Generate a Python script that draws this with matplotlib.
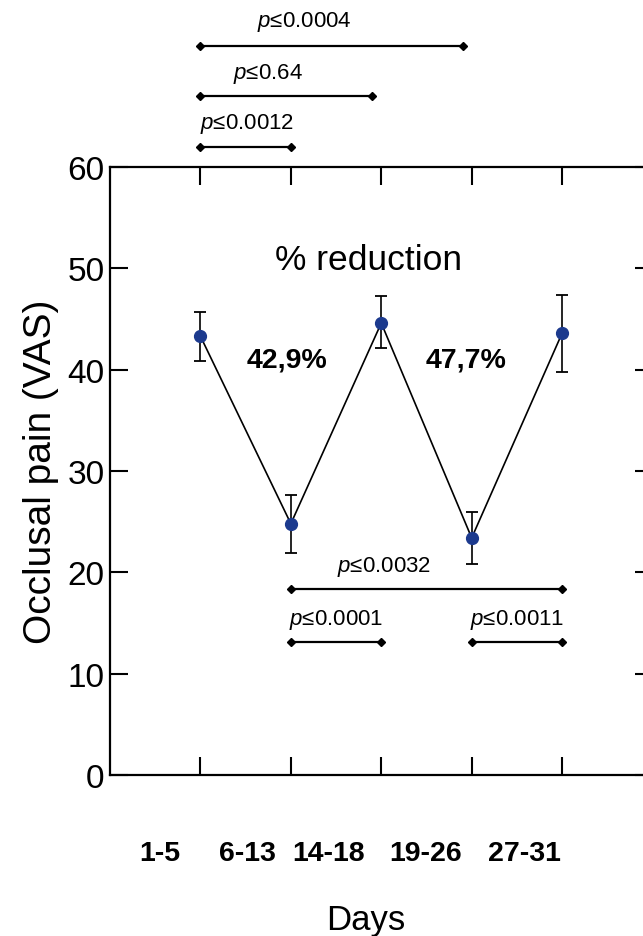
import matplotlib
matplotlib.use("Agg")
import matplotlib.pyplot as plt

plt.rcParams['font.family'] = ['Liberation Sans', 'DejaVu Sans']
plt.rcParams['mathtext.fontset'] = 'custom'
plt.rcParams['mathtext.it'] = 'Liberation Sans:italic'
plt.rcParams['mathtext.rm'] = 'Liberation Sans'

# ---- data ----
periods = ["1-5", "6-13", "14-18", "19-26", "27-31"]
x_pos = [1, 2, 3, 4, 5]
pain_mean = [43.3, 24.8, 44.6, 23.4, 43.6]
err_low = [2.4, 2.9, 2.5, 2.6, 3.8]
err_high = [2.4, 2.8, 2.7, 2.6, 3.8]
reductions = ["42,9%", "47,7%"]

# comparisons: (x_start, x_end, label)
comp_top = [(1, 3.9, "0.0004"), (1, 2.9, "0.64"), (1, 2.0, "0.0012")]
comp_bottom = [(2, 5, "0.0032"), (2, 3, "0.0001"), (4, 5, "0.0011")]

# ---- layout ----
fig = plt.figure(figsize=(6.43, 9.37), dpi=100)
ax = fig.add_axes([0.1711, 0.1718, 0.8437, 0.6489])

ax.plot(x_pos, pain_mean, color='black', lw=1.2, zorder=2)
ax.errorbar(x_pos, pain_mean, yerr=[err_low, err_high], fmt='o', color='#1c3a8e',
            ecolor='black', elinewidth=1.2, capsize=4.5, capthick=1.3,
            markersize=8.5, zorder=3)

ax.set_xlim(0, 6)
ax.set_ylim(0, 60)
ax.set_yticks([0, 10, 20, 30, 40, 50, 60])
ax.set_xticks(x_pos)
ax.set_xticklabels([])
ax.tick_params(axis='both', direction='in', length=13, width=1.5,
               top=True, right=True, labelsize=24, pad=4)
ax.tick_params(axis='x', labelbottom=False)
for s in ax.spines.values():
    s.set_linewidth(1.6)
ax.set_ylabel("Occlusal pain (VAS)", fontsize=28, labelpad=6)

# period labels (placed between the ticks as in the original)
label_x = [0.55, 1.52, 2.42, 3.49, 4.58]
for lx, t in zip(label_x, periods):
    ax.text(lx, -7.7, t, ha='center', va='center', fontsize=20.5,
            fontweight='bold', clip_on=False)
ax.text(2.83, -14.3, "Days", ha='center', va='center', fontsize=25, clip_on=False)

ax.text(2.86, 50.9, "% reduction", ha='center', va='center', fontsize=25.5)
ax.text(1.96, 41.0, reductions[0], ha='center', va='center', fontsize=20.5, fontweight='bold')
ax.text(3.94, 41.0, reductions[1], ha='center', va='center', fontsize=20.5, fontweight='bold')

def bracket(x0, x1, y, ty, txt, tx=None):
    ax.plot([x0, x1], [y, y], color='black', lw=1.6, marker='D', markersize=4.5,
            clip_on=False, zorder=4)
    if tx is None:
        tx = (x0 + x1) / 2
    ax.text(tx, ty, r"$\mathit{p}$≤" + txt, ha='center', va='center',
            fontsize=16, clip_on=False)

top_y = [71.9, 67.0, 62.0]
top_ty = [74.4, 69.3, 64.3]
top_tx = [2.15, 1.75, 1.52]
for (x0, x1, t), y, ty, tx in zip(comp_top, top_y, top_ty, top_tx):
    bracket(x0, x1, y, ty, t, tx)

bot_y = [18.4, 13.1, 13.1]
bot_ty = [20.6, 15.4, 15.4]
bot_tx = [3.03, 2.5, 4.5]
for (x0, x1, t), y, ty, tx in zip(comp_bottom, bot_y, bot_ty, bot_tx):
    bracket(x0, x1, y, ty, t, tx)

fig.savefig("out.png", dpi=100)
